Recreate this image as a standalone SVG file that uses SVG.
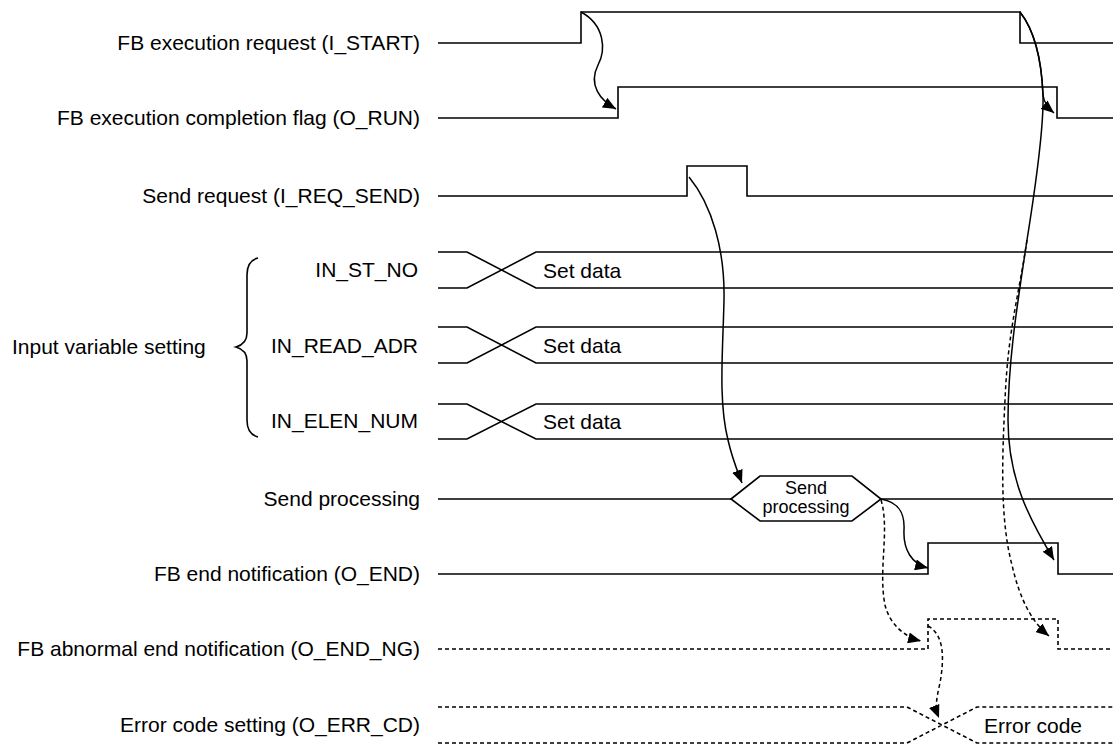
<svg xmlns="http://www.w3.org/2000/svg" width="1113" height="745" viewBox="0 0 1113 745">
<style>
text{font-family:"Liberation Sans",Arial,sans-serif;font-size:21px;fill:#000}
.lbl{text-anchor:end}
.hex{font-size:18px;text-anchor:middle}
.sig{fill:none;stroke:#000;stroke-width:1.6}
.dash{fill:none;stroke:#000;stroke-width:1.6;stroke-dasharray:4 3}
.arr{fill:none;stroke:#000;stroke-width:1.5;marker-end:url(#ah)}
.darr{fill:none;stroke:#000;stroke-width:1.5;stroke-dasharray:4 3;marker-end:url(#ah)}
</style>
<defs>
<marker id="ah" markerUnits="userSpaceOnUse" markerWidth="14" markerHeight="11" refX="13" refY="5.5" orient="auto">
<path d="M0,0 L13,5.5 L0,11 z" fill="#000"/>
</marker>
</defs>
<rect width="1113" height="745" fill="#fff"/>
<g id="labels">
<text class="lbl" x="420" y="50">FB execution request (I_START)</text>
<text class="lbl" x="420" y="125">FB execution completion flag (O_RUN)</text>
<text class="lbl" x="420" y="203">Send request (I_REQ_SEND)</text>
<text class="lbl" x="418" y="277">IN_ST_NO</text>
<text class="lbl" x="418" y="353">IN_READ_ADR</text>
<text class="lbl" x="418" y="428">IN_ELEN_NUM</text>
<text x="12" y="354">Input variable setting</text>
<text class="lbl" x="420" y="506">Send processing</text>
<text class="lbl" x="420" y="581">FB end notification (O_END)</text>
<text class="lbl" x="420" y="656">FB abnormal end notification (O_END_NG)</text>
<text class="lbl" x="420" y="732">Error code setting (O_ERR_CD)</text>
</g>
<g id="brace">
<path class="sig" d="M258,258 C250,260 247,266 247,275 L247,333 C247,341 243,345 236,347 C243,349 247,353 247,361 L247,420 C247,429 250,435 258,437"/>
</g>
<g id="sig-istart"><path class="sig" d="M438,43 H581 V12 H1020 V43 H1113"/></g>
<g id="sig-orun"><path class="sig" d="M438,118 H618 V87 H1057 V118 H1113"/></g>
<g id="sig-ireqsend"><path class="sig" d="M438,196 H687 V166 H747 V196 H1113"/></g>
<g id="sig-in-st-no">
<path class="sig" d="M438,252 H467 L536,288 H1113 M438,288 H467 L536,252 H1113"/>
<text x="543" y="278">Set data</text>
</g>
<g id="sig-in-read-adr">
<path class="sig" d="M438,327 H467 L536,363 H1113 M438,363 H467 L536,327 H1113"/>
<text x="543" y="353">Set data</text>
</g>
<g id="sig-in-elen-num">
<path class="sig" d="M438,404 H467 L536,439 H1113 M438,439 H467 L536,404 H1113"/>
<text x="543" y="429">Set data</text>
</g>
<g id="sig-sendproc">
<path class="sig" d="M438,499 H731 M881,499 H1113"/>
<path class="sig" d="M731,499 L760,476 H852 L881,499 L852,521 H760 Z" fill="#fff"/>
<text class="hex" x="806" y="494">Send</text>
<text class="hex" x="806" y="513">processing</text>
</g>
<g id="sig-oend"><path class="sig" d="M438,574 H928 V543 H1058 V574 H1113"/></g>
<g id="sig-oendng"><path class="dash" d="M438,649 H928 V619 H1058 V649 H1113"/></g>
<g id="sig-oerrcd">
<path class="dash" d="M438,707 H907 L977,743 H1113 M438,743 H907 L977,707 H1113"/>
<text x="984" y="733">Error code</text>
</g>
<g id="connectors">
<path class="arr" d="M581,12 C605,25 606,50 598,65 C588,85 600,100 616,109"/>
<path class="arr" d="M1020,12 C1038,35 1042,70 1043,95 C1044,103 1048,108 1054,113"/>
<path class="arr" d="M1020,12 C1038,35 1042,70 1043,95 C1044,130 1035,190 1027,240 C1018,300 1008,360 1008,420 C1008,480 1030,520 1054,560"/>
<path class="darr" d="M1027,240 C1018,300 1008,330 1005,400 C1002,460 1000,520 1012,565 C1020,600 1032,622 1049,636"/>
<path class="arr" d="M689,177 C712,205 725,250 724,300 C723,350 718,400 728,440 C732,458 737,470 742,483"/>
<path class="arr" d="M881,499 C898,502 905,512 904,530 C903,550 912,564 928,568"/>
<path class="darr" d="M881,500 C890,530 878,570 885,605 C890,625 905,637 921,641"/>
<path class="darr" d="M928,626 C945,635 944,660 940,683 C936,700 935,708 939,718"/>
</g>
</svg>
